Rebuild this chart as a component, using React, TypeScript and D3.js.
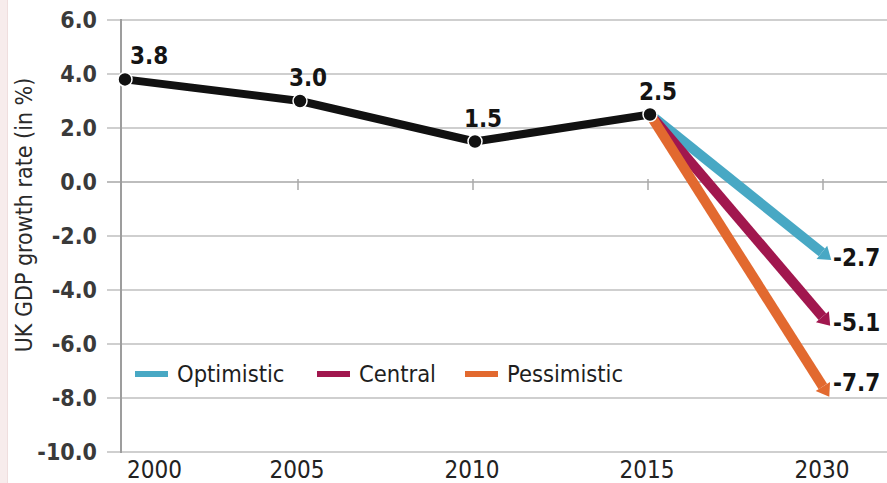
import React from 'react';
import * as d3 from 'd3';

const years = ['2000', '2005', '2010', '2015', '2030'];
const historical = [3.8, 3.0, 1.5, 2.5];
const scenarioNames = ['Optimistic', 'Central', 'Pessimistic'];
const scenarioValues = [-2.7, -5.1, -7.7];
const scenarioColors = ['#48a8c4', '#a1174e', '#e2692f'];
const yTicks = [6, 4, 2, 0, -2, -4, -6, -8, -10];
const yTitle = 'UK GDP growth rate (in %)';

const W = 887;
const H = 483;
const FONT = "'Liberation Sans Narrow', 'DejaVu Sans Condensed', 'Roboto Condensed', sans-serif";

export default function App() {
  const x = d3.scalePoint<string>().domain(years).range([125, 825]);
  const y = d3.scaleLinear().domain([-10, 6]).range([452, 20]);
  const axisX = 121;
  const gridLeft = 107;

  const histPts: [number, number][] = historical.map((v, i) => [x(years[i])!, y(v)]);
  const line = d3.line();

  const start: [number, number] = [x('2015')!, y(2.5)];

  const arrows = scenarioValues.map((v, i) => {
    const end: [number, number] = [x('2030')!, y(v)];
    const dx = end[0] - start[0];
    const dy = end[1] - start[1];
    const len = Math.hypot(dx, dy);
    const ux = dx / len, uy = dy / len;
    const px = -uy, py = ux;
    const headLen = 12, headHalf = 8.5;
    const base: [number, number] = [end[0] - ux * 4, end[1] - uy * 4];
    const tip: [number, number] = [base[0] + ux * headLen, base[1] + uy * headLen];
    const head = [
      [base[0] + px * headHalf, base[1] + py * headHalf],
      tip,
      [base[0] - px * headHalf, base[1] - py * headHalf],
    ];
    return { end, base, head, color: scenarioColors[i], value: v };
  });

  const legendX = [135, 317, 465];

  return (
    <svg width={W} height={H} style={{ position: 'absolute', left: 0, top: 0, background: '#fff' }} fontFamily={FONT}>
      <rect x={0} y={0} width={7} height={H} fill="#f7ecec" />
      <line x1={7.5} x2={7.5} y1={0} y2={H} stroke="#efdede" strokeWidth={1} />

      {/* gridlines */}
      {yTicks.map((t) => (
        <line key={t} x1={gridLeft} x2={W} y1={y(t)} y2={y(t)} stroke={t === 0 ? '#bdbdbd' : '#cfcfcf'} strokeWidth={2} />
      ))}
      {/* y axis */}
      <line x1={axisX} x2={axisX} y1={y(6) - 1} y2={y(-10) + 1} stroke="#9d9d9d" strokeWidth={2} />
      {/* x ticks on zero line */}
      {years.slice(1).map((yr) => (
        <line key={yr} x1={x(yr)! - 2} x2={x(yr)! - 2} y1={y(0) - 3} y2={y(0) + 8} stroke="#aaaaaa" strokeWidth={1.5} />
      ))}
      {/* y tick labels */}
      {yTicks.map((t) => (
        <text key={t} x={97} y={y(t)} dy="0.35em" textAnchor="end" fontSize={23} fontWeight="bold" fill="#3a3a3a">
          {t.toFixed(1)}
        </text>
      ))}
      {/* x labels */}
      {years.map((yr, i) => (
        <text key={yr} x={i === 0 ? x(yr)! + 2 : x(yr)! - 3} y={478} textAnchor={i === 0 ? 'start' : 'middle'} fontSize={24} fill="#222">
          {yr}
        </text>
      ))}
      {/* y title */}
      <text transform={`translate(32,${(y(6) + y(-10)) / 2 - 21}) rotate(-90)`} textAnchor="middle" fontSize={23} fill="#2a2a2a">
        {yTitle}
      </text>

      {/* arrows */}
      {arrows.map((a, i) => (
        <g key={i}>
          <line x1={start[0]} y1={start[1]} x2={a.base[0]} y2={a.base[1]} stroke={a.color} strokeWidth={10} />
          <polygon points={a.head.map((p) => p.join(',')).join(' ')} fill={a.color} />
        </g>
      ))}

      {/* historical line */}
      <path d={line(histPts)!} fill="none" stroke="#111" strokeWidth={8} strokeLinejoin="round" />
      {histPts.map((p, i) => (
        <circle key={i} cx={p[0]} cy={p[1]} r={7} fill="#111" stroke="#fff" strokeWidth={1.5} />
      ))}

      {/* historical labels */}
      {historical.map((v, i) => (
        <text key={i} x={i === 0 ? histPts[i][0] + 5 : histPts[i][0] + 8} y={histPts[i][1] - 15}
          textAnchor={i === 0 ? 'start' : 'middle'} fontSize={24} fontWeight="bold" fill="#141414">
          {v.toFixed(1)}
        </text>
      ))}

      {/* scenario labels */}
      {arrows.map((a, i) => (
        <text key={i} x={a.end[0] + 8} y={a.end[1] + (i === 2 ? -7 : 3)} dy="0.35em" fontSize={24} fontWeight="bold" fill="#141414">
          {a.value.toFixed(1)}
        </text>
      ))}

      {/* legend */}
      {scenarioNames.map((n, i) => (
        <g key={n}>
          <rect x={legendX[i]} y={371} width={33} height={6} fill={scenarioColors[i]} />
          <text x={legendX[i] + 42} y={374} dy="0.35em" fontSize={23.5} fill="#1e1e1e">
            {n}
          </text>
        </g>
      ))}
    </svg>
  );
}
